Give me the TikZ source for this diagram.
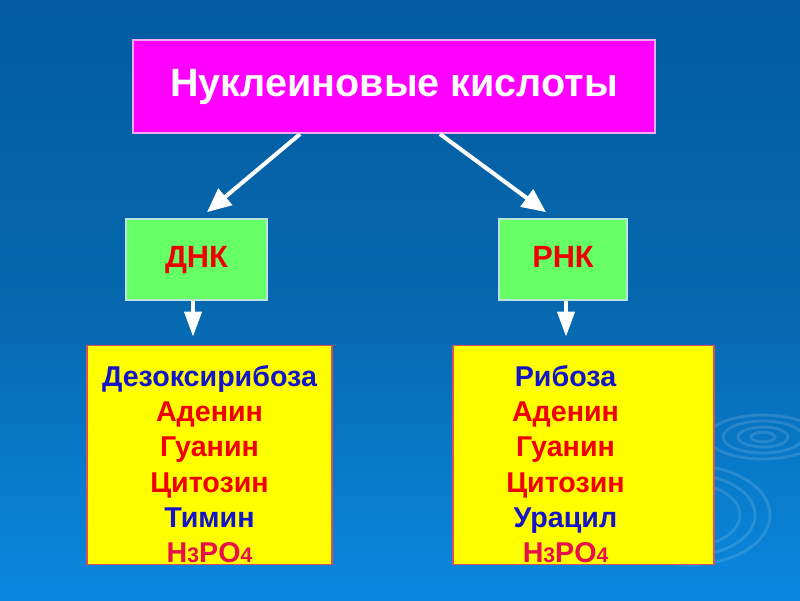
\documentclass[tikz,border=0pt]{standalone}
\usepackage{fontspec}
\setmainfont{Liberation Sans}
\usetikzlibrary{arrows.meta,calc}
\definecolor{bgtop}{HTML}{035CA0}
\definecolor{bgmid}{HTML}{0667AE}
\definecolor{bgbot}{HTML}{0A88DE}
\definecolor{mag}{HTML}{FF00FF}
\definecolor{magline}{HTML}{F0A8F0}
\definecolor{grn}{HTML}{66FF66}
\definecolor{grnline}{HTML}{B8E4DC}
\definecolor{yel}{HTML}{FFFF00}
\definecolor{yelline}{HTML}{D85060}
\definecolor{txtred}{HTML}{F00000}
\definecolor{txtblue}{HTML}{1414C8}
\definecolor{txtacid}{HTML}{E8104C}
\tikzset{
  topbox/.style={draw=magline, line width=1.2pt, fill=mag, minimum width=10.44cm, minimum height=1.86cm,
    text=white, font=\fontsize{22.5}{26}\selectfont\bfseries},
  nabox/.style={draw=grnline, line width=1pt, fill=grn, minimum height=1.62cm,
    text height=12.6pt, text depth=3pt,
    text=txtred, font=\fontsize{17.5}{21}\selectfont\bfseries},
  listbox/.style={draw=yelline, line width=1pt, fill=yel, minimum height=4.38cm},
  listtext/.style={align=center, font=\fontsize{16.3}{20.1}\selectfont\bfseries, inner sep=0pt},
  arr/.style={draw=white, line width=2.3pt, -{Triangle[length=0.48cm, width=0.42cm, fill=white]}},
  darr/.style={draw=white, line width=2.3pt, -{Triangle[length=0.5cm, width=0.34cm, fill=white]}},
  ripple/.style={draw=white, opacity=0.13, line width=1.6pt}
}
\newcommand{\acid}{\textcolor{txtacid}{H{\fontsize{12}{14}\selectfont 3}PO{\fontsize{12}{14}\selectfont 4}}}
\begin{document}
\begin{tikzpicture}[x=0.02cm, y=-0.02cm]
  % background
  \shade[top color=bgtop, bottom color=bgbot, middle color=bgmid] (0,0) rectangle (800,600);
  \useasboundingbox (0,0) rectangle (800,600);
  % ripples
  \foreach \r in {12,25,40,55} { \draw[ripple] (763,437) ellipse ({\r} and {\r*0.4}); }
  \foreach \r in {50,65,80} { \draw[ripple] (690,515) ellipse ({\r} and {\r*0.62}); }

  % nodes
  \node[topbox] (top) at (394,86.5) {Нуклеиновые кислоты};
  \node[nabox, minimum width=2.82cm] (dna) at (196.5,259.5) {ДНК};
  \node[nabox, minimum width=2.56cm] (rna) at (563,259.5) {РНК};
  \node[listbox, minimum width=4.9cm] (dbox) at (209.5,455) {};
  \node[listbox, minimum width=5.22cm] (rbox) at (583.5,455) {};
  \node[listtext] (dtext) at ($(dbox.center)+(0,9)$) {%
    \textcolor{txtblue}{Дезоксирибоза}\\
    \textcolor{txtred}{Аденин}\\
    \textcolor{txtred}{Гуанин}\\
    \textcolor{txtred}{Цитозин}\\
    \textcolor{txtblue}{Тимин}\\
    \acid};
  \node[listtext] (rtext) at ($(rbox.center)+(-18,9)$) {%
    \textcolor{txtblue}{Рибоза}\\
    \textcolor{txtred}{Аденин}\\
    \textcolor{txtred}{Гуанин}\\
    \textcolor{txtred}{Цитозин}\\
    \textcolor{txtblue}{Урацил}\\
    \acid};

  % connectors
  \draw[arr] ($(top.south)+(-94,0)$) -- ($(dna.north)+(10.5,-6)$);
  \draw[arr] ($(top.south)+(46,0)$) -- ($(rna.north)+(-17,-6)$);
  \draw[darr] ($(dna.south)+(-3.5,0)$) -- ($(dbox.north)+(-16.5,-8)$);
  \draw[darr] ($(rna.south)+(3,0)$) -- ($(rbox.north)+(-17.5,-8)$);
\end{tikzpicture}
\end{document}
